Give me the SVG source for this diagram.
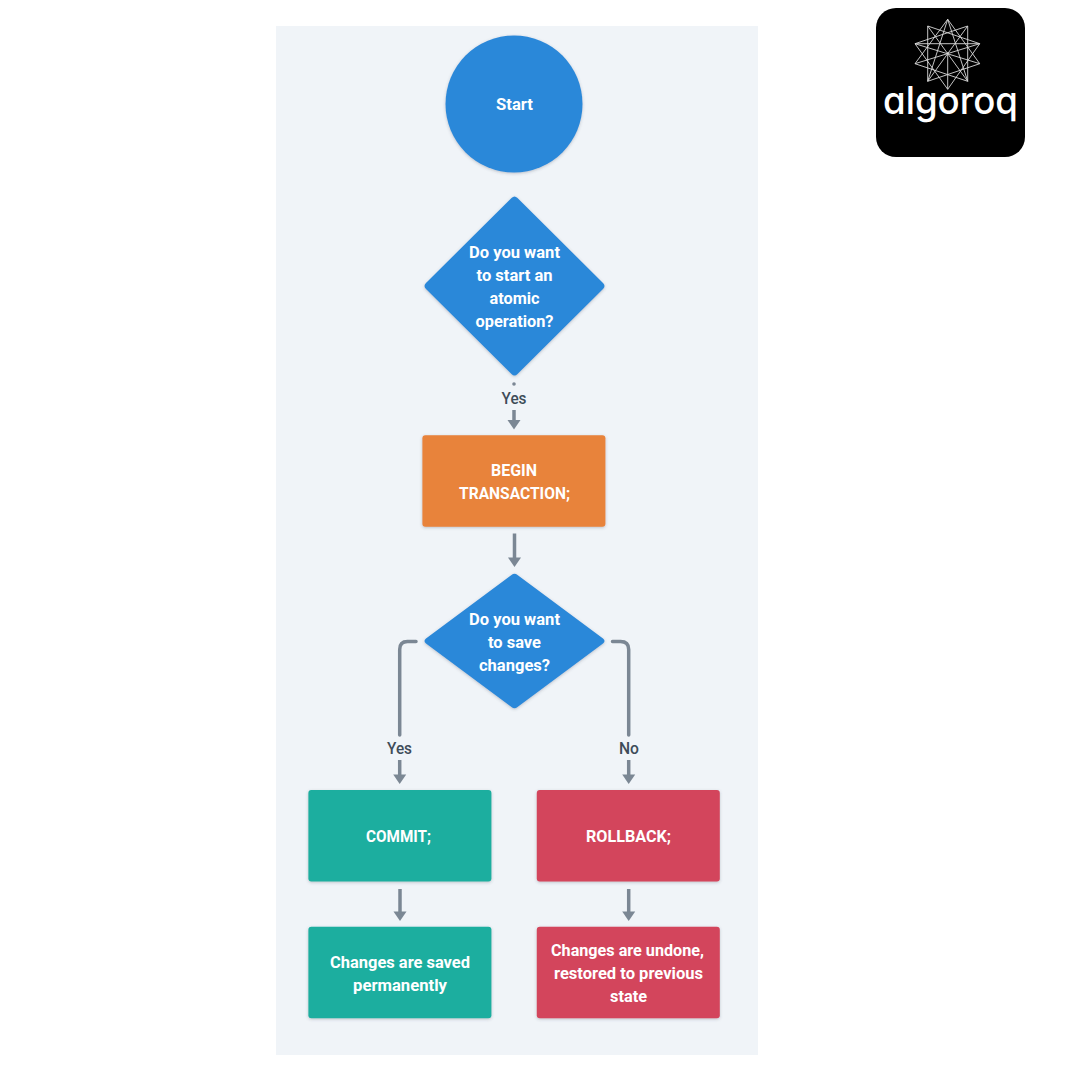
<svg xmlns="http://www.w3.org/2000/svg" width="1080" height="1080" viewBox="0 0 1080 1080">
<style>
.t{font-family:Roboto,"Liberation Sans",sans-serif;font-weight:700;font-size:17px;fill:#fff;text-anchor:middle}
.l{font-family:Roboto,"Liberation Sans",sans-serif;font-weight:500;font-size:17px;fill:#3e4c59;text-anchor:middle}
.c{fill:none;stroke:#7b8794;stroke-width:3.500;stroke-linecap:round;stroke-linejoin:round}
.b{stroke-linecap:butt}
.h{fill:#7b8794}
.blue{fill:#2c88d9;filter:url(#s)}.orange{fill:#e8833a;filter:url(#s)}.teal{fill:#1aae9f;filter:url(#s)}.red{fill:#d3455b;filter:url(#s)}
</style>
<defs>
<filter id="s" x="-10%" y="-10%" width="120%" height="125%"><feDropShadow dx="0" dy="1" stdDeviation="1.500" flood-color="#3e4c59" flood-opacity=".3"/></filter>
</defs>
<rect width="1080" height="1080" fill="#fff"/>
<rect id="panel" x="276" y="26" width="482" height="1029" fill="#f0f4f8"/>
<g id="connectors">
<circle class="h" cx="514" cy="384" r="1.800"/>
<path class="c b" d="M514 410V423"/><path class="h" d="M507.500 420H520.500L514 429.500Z"/>
<path class="c b" d="M514.500 533.500V560"/><path class="h" d="M508 557.500H521L514.500 567Z"/>
<path class="c" d="M416 641.500H407.500Q399.700 641.500 399.700 649.500V735"/>
<path class="c b" d="M399.700 760V777"/><path class="h" d="M393.200 774.500H406.200L399.700 784Z"/>
<path class="c" d="M612.500 641.500H620.500Q628.700 641.500 628.700 649.500V735"/>
<path class="c b" d="M628.700 760V777"/><path class="h" d="M622.200 774.500H635.200L628.700 784Z"/>
<path class="c b" d="M400 889V914"/><path class="h" d="M393.500 911.500H406.500L400 921Z"/>
<path class="c b" d="M628.700 889V914"/><path class="h" d="M622.200 911.500H635.200L628.700 921Z"/>
<text class="l" x="514" y="404" textLength="25" lengthAdjust="spacingAndGlyphs">Yes</text>
<text class="l" x="399.500" y="753.500" textLength="25" lengthAdjust="spacingAndGlyphs">Yes</text>
<text class="l" x="629" y="753.500" textLength="20" lengthAdjust="spacingAndGlyphs">No</text>
</g>
<g id="start"><circle class="blue" cx="514" cy="104" r="68.500"/>
<text class="t" x="514.500" y="110" textLength="37" lengthAdjust="spacingAndGlyphs">Start</text></g>
<g id="decision1"><path class="blue" d="M511.500 198Q514.500 195 517.500 198L603 283Q606 286 603 289L517.500 374Q514.500 377 511.500 374L426 289Q423 286 426 283Z"/>
<text class="t" x="514.500" y="258" textLength="91" lengthAdjust="spacingAndGlyphs">Do you want</text>
<text class="t" x="514.500" y="281" textLength="76" lengthAdjust="spacingAndGlyphs">to start an</text>
<text class="t" x="514.500" y="304" textLength="50" lengthAdjust="spacingAndGlyphs">atomic</text>
<text class="t" x="514.500" y="327" textLength="78" lengthAdjust="spacingAndGlyphs">operation?</text></g>
<g id="begin"><rect class="orange" x="422.400" y="435.300" width="183" height="91.500" rx="3"/>
<text class="t" x="514" y="476" textLength="46" lengthAdjust="spacingAndGlyphs">BEGIN</text>
<text class="t" x="514.500" y="499" textLength="111" lengthAdjust="spacingAndGlyphs">TRANSACTION;</text></g>
<g id="decision2"><path class="blue" d="M511.500 575Q514.500 572.500 517.500 575L603 638.500Q606 641 603 643.500L517.500 707Q514.500 709.500 511.500 707L426 643.500Q423 641 426 638.500Z"/>
<text class="t" x="514.500" y="625" textLength="91" lengthAdjust="spacingAndGlyphs">Do you want</text>
<text class="t" x="514.500" y="648" textLength="53" lengthAdjust="spacingAndGlyphs">to save</text>
<text class="t" x="514.500" y="671" textLength="71" lengthAdjust="spacingAndGlyphs">changes?</text></g>
<g id="commit"><rect class="teal" x="308.400" y="790" width="183" height="91.500" rx="3"/>
<text class="t" x="398.500" y="842" textLength="65" lengthAdjust="spacingAndGlyphs">COMMIT;</text></g>
<g id="rollback"><rect class="red" x="536.800" y="790" width="183" height="91.500" rx="3"/>
<text class="t" x="628.500" y="842" textLength="85" lengthAdjust="spacingAndGlyphs">ROLLBACK;</text></g>
<g id="saved"><rect class="teal" x="308.400" y="926.800" width="183" height="91.500" rx="3"/>
<text class="t" x="400" y="968" textLength="140" lengthAdjust="spacingAndGlyphs">Changes are saved</text>
<text class="t" x="400" y="991" textLength="94" lengthAdjust="spacingAndGlyphs">permanently</text></g>
<g id="undone"><rect class="red" x="536.800" y="926.800" width="183" height="91.500" rx="3"/>
<text class="t" x="627.500" y="956" textLength="153" lengthAdjust="spacingAndGlyphs">Changes are undone,</text>
<text class="t" x="628.500" y="979" textLength="149" lengthAdjust="spacingAndGlyphs">restored to previous</text>
<text class="t" x="628.500" y="1002" textLength="37" lengthAdjust="spacingAndGlyphs">state</text></g>
<g id="logo"><rect x="876" y="8" width="149" height="149" rx="20" fill="#000"/>
<path fill="none" stroke="#d8d8d8" stroke-width=".9" d="M947.700 19.300L979.700 63.700L927.700 81.300L927.700 26L979.700 43.700L947.700 89.300L915 43.700L967.700 26L967.700 81.300L915 63.700L947.700 19.300M915 43.700H979.700M947.700 52V89.300M915 43.700L979.700 63.700M979.700 43.700L915 63.700M947.700 19.300L927.700 81.300M947.700 19.300L967.700 81.300M927.700 81.300L967.700 26M967.700 81.300L927.700 26"/>
<text x="950.500" y="114" text-anchor="middle" font-family="Inter,Lato,sans-serif" font-size="38" font-weight="500" fill="#fff" style="font-feature-settings:'cv11'" textLength="135" lengthAdjust="spacingAndGlyphs">algoroq</text></g>
</svg>
